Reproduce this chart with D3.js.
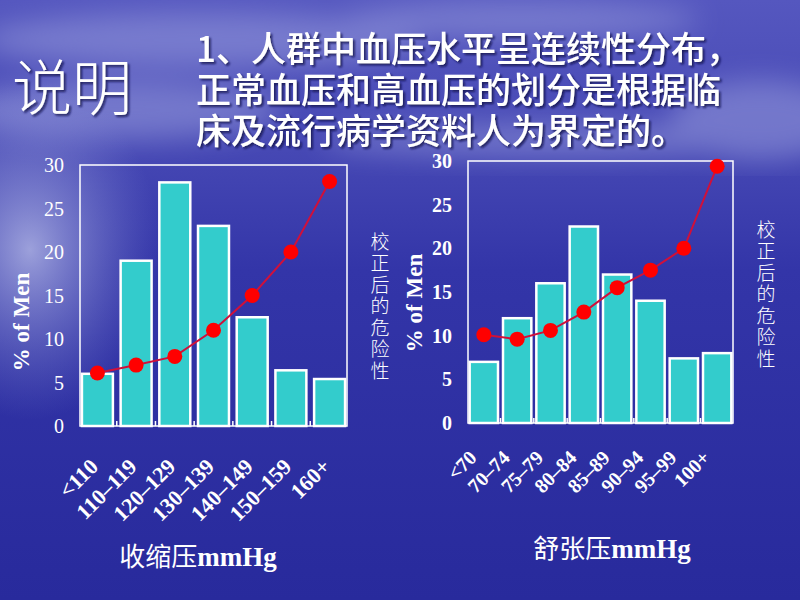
<!DOCTYPE html>
<html>
<head>
<meta charset="utf-8">
<script src="https://cdn.jsdelivr.net/npm/d3@7"></script>
<style>
  html, body { margin: 0; padding: 0; background: #2c2d9c; }
  svg { display: block; }
</style>
</head>
<body>
<script>
// ---- data ----
const sysCats = ["<110", "110–119", "120–129", "130–139", "140–149", "150–159", "160+"];
const sysPct  = [6, 19, 28, 23, 12.5, 6.4, 5.4];
const sysRisk = [6.1, 7, 8, 11, 15, 20, 28.1];

const diaCats = ["<70", "70–74", "75–79", "80–84", "85–89", "90–94", "95–99", "100+"];
const diaPct  = [7, 12, 16, 22.5, 17, 14, 7.4, 8];
const diaRisk = [10.1, 9.6, 10.6, 12.7, 15.5, 17.5, 20, 29.4];

const yTicks = [0, 5, 10, 15, 20, 25, 30];
const titleLines = ["1、人群中血压水平呈连续性分布，", "正常血压和高血压的划分是根据临", "床及流行病学资料人为界定的。"];
const riskLabel = "校正后的危险性";

const W = 800, H = 600;
const CJK = "'Noto Sans CJK SC', sans-serif";
const SERIF = "'Liberation Serif', 'DejaVu Serif', serif";

const svg = d3.select("body").append("svg")
  .attr("width", W).attr("height", H);

// ---- background: sky over sea ----
const defs = svg.append("defs");
const bg = defs.append("linearGradient").attr("id", "bg")
  .attr("x1", 0).attr("y1", 0).attr("x2", 0).attr("y2", 1);
bg.append("stop").attr("offset", "0%").attr("stop-color", "#5557bf");
bg.append("stop").attr("offset", "25%").attr("stop-color", "#4648b4");
bg.append("stop").attr("offset", "45%").attr("stop-color", "#3335a8");
bg.append("stop").attr("offset", "100%").attr("stop-color", "#282a9c");

const glow = defs.append("radialGradient").attr("id", "glow")
  .attr("cx", 0.5).attr("cy", 0.5).attr("r", 0.5);
glow.append("stop").attr("offset", "0%").attr("stop-color", "#c8cdf0").attr("stop-opacity", 0.7);
glow.append("stop").attr("offset", "100%").attr("stop-color", "#8a90d8").attr("stop-opacity", 0);

defs.append("filter").attr("id", "blur").append("feGaussianBlur").attr("stdDeviation", 14);

const shadow = defs.append("filter").attr("id", "shadow");
shadow.append("feDropShadow").attr("dx", 2).attr("dy", 2).attr("stdDeviation", 1)
  .attr("flood-color", "#10104a").attr("flood-opacity", 0.8);

svg.append("rect").attr("width", W).attr("height", H).attr("fill", "url(#bg)");
const clouds = svg.append("g").attr("filter", "url(#blur)").attr("fill", "#9ea3e0").attr("opacity", 0.5);
clouds.append("ellipse").attr("cx", 200).attr("cy", 40).attr("rx", 220).attr("ry", 28);
clouds.append("ellipse").attr("cx", 120).attr("cy", 110).attr("rx", 160).attr("ry", 30);
clouds.append("ellipse").attr("cx", 520).attr("cy", 20).attr("rx", 180).attr("ry", 18);
clouds.append("ellipse").attr("cx", 760).attr("cy", 120).attr("rx", 90).attr("ry", 40);
clouds.append("ellipse").attr("cx", 560).attr("cy", 140).attr("rx", 240).attr("ry", 16);
svg.append("ellipse").attr("cx", 30).attr("cy", 250).attr("rx", 130).attr("ry", 170)
  .attr("fill", "url(#glow)");

// ---- title text ----
svg.append("text")
  .attr("x", 12).attr("y", 110)
  .attr("font-family", CJK).attr("font-weight", 300).attr("font-size", 60)
  .attr("fill", "#fff").attr("filter", "url(#shadow)")
  .text("说明");

svg.append("text")
  .attr("font-family", CJK).attr("font-weight", 500).attr("font-size", 35)
  .attr("fill", "#fff").attr("filter", "url(#shadow)")
  .selectAll("tspan").data(titleLines).join("tspan")
  .attr("x", 196).attr("y", (d, i) => 62 + i * 41)
  .text(d => d);

// ---- chart builder ----
function drawChart(o) {
  const g = svg.append("g");
  const x = d3.scaleBand().domain(o.cats).range([o.left, o.right])
    .paddingInner(o.padIn).paddingOuter(o.padOut);
  const y = d3.scaleLinear().domain([0, 30]).range([o.bottom, o.top]);

  // frame
  g.append("rect")
    .attr("x", o.left).attr("y", o.top)
    .attr("width", o.right - o.left).attr("height", o.bottom - o.top)
    .attr("fill", "none").attr("stroke", "#fff").attr("stroke-width", 1.5);

  // y tick labels
  g.selectAll(".yt").data(yTicks).join("text")
    .attr("x", o.left - 16).attr("y", d => y(d) + 7)
    .attr("text-anchor", "end")
    .attr("font-family", SERIF).attr("font-weight", o.bold ? "bold" : "normal")
    .attr("font-size", 20).attr("fill", "#fff")
    .text(d => d);

  // inward ticks at band edges along the baseline
  const edges = o.cats.slice(1).map(c => x(c) - x.step() * x.paddingInner() / 2);
  g.selectAll(".xt").data(edges).join("line")
    .attr("x1", d => d).attr("x2", d => d)
    .attr("y1", o.bottom).attr("y2", o.bottom - 5)
    .attr("stroke", "#fff").attr("stroke-width", 1.5);

  // bars
  g.selectAll(".bar").data(o.pct).join("rect")
    .attr("x", (d, i) => x(o.cats[i]))
    .attr("y", d => y(d))
    .attr("width", x.bandwidth())
    .attr("height", d => o.bottom - y(d))
    .attr("fill", "#33cccc").attr("stroke", "#fff").attr("stroke-width", 2.5);

  // risk line
  const cx = (d, i) => x(o.cats[i]) + x.bandwidth() / 2;
  g.append("path")
    .attr("d", d3.line().x(cx).y(d => y(d))(o.risk))
    .attr("fill", "none").attr("stroke", "#d0103a").attr("stroke-width", 2);
  g.selectAll(".dot").data(o.risk).join("circle")
    .attr("cx", cx).attr("cy", d => y(d)).attr("r", 7.5)
    .attr("fill", "#ff0000");

  // x category labels, rotated
  g.selectAll(".xl").data(o.cats).join("text")
    .attr("transform", (d, i) => `translate(${x(d) + x.bandwidth() / 2 + o.lx},${o.bottom + o.ly}) rotate(-45)`)
    .attr("text-anchor", "end")
    .attr("font-family", SERIF).attr("font-weight", "bold")
    .attr("font-size", o.labelSize).attr("fill", "#fff")
    .text(d => d);

  // y axis title
  g.append("text")
    .attr("transform", `translate(${o.yTitleX},${o.yTitleY}) rotate(-90)`)
    .attr("text-anchor", "middle")
    .attr("font-family", SERIF).attr("font-weight", "bold")
    .attr("font-size", 23).attr("fill", "#fff")
    .text("% of Men");

  // vertical risk label
  g.append("text")
    .attr("x", o.riskX).attr("y", o.riskY)
    .attr("font-family", CJK).attr("font-weight", 300)
    .attr("font-size", 19).attr("fill", "#fff")
    .style("writing-mode", "vertical-rl")
    .style("letter-spacing", "2.5px")
    .text(riskLabel);

  // x axis title
  const t = g.append("text")
    .attr("x", o.xTitleX).attr("y", o.xTitleY)
    .attr("text-anchor", "middle").attr("fill", "#fff");
  t.append("tspan").attr("font-family", CJK).attr("font-size", 26).text(o.xTitle);
  t.append("tspan").attr("font-family", SERIF).attr("font-weight", "bold")
    .attr("font-size", 27).text("mmHg");
}

drawChart({
  cats: sysCats, pct: sysPct, risk: sysRisk,
  left: 80, right: 347, top: 165, bottom: 426,
  padIn: 0.2, padOut: 0.05, bold: false,
  lx: 2, ly: 42, labelSize: 22,
  yTitleX: 29, yTitleY: 322,
  riskX: 380, riskY: 232,
  xTitle: "收缩压", xTitleX: 198, xTitleY: 566
});

drawChart({
  cats: diaCats, pct: diaPct, risk: diaRisk,
  left: 468, right: 733, top: 161, bottom: 423,
  padIn: 0.15, padOut: 0.05, bold: true,
  lx: -6, ly: 36, labelSize: 20,
  yTitleX: 422, yTitleY: 303,
  riskX: 766, riskY: 220,
  xTitle: "舒张压", xTitleX: 612, xTitleY: 558
});
</script>
</body>
</html>
